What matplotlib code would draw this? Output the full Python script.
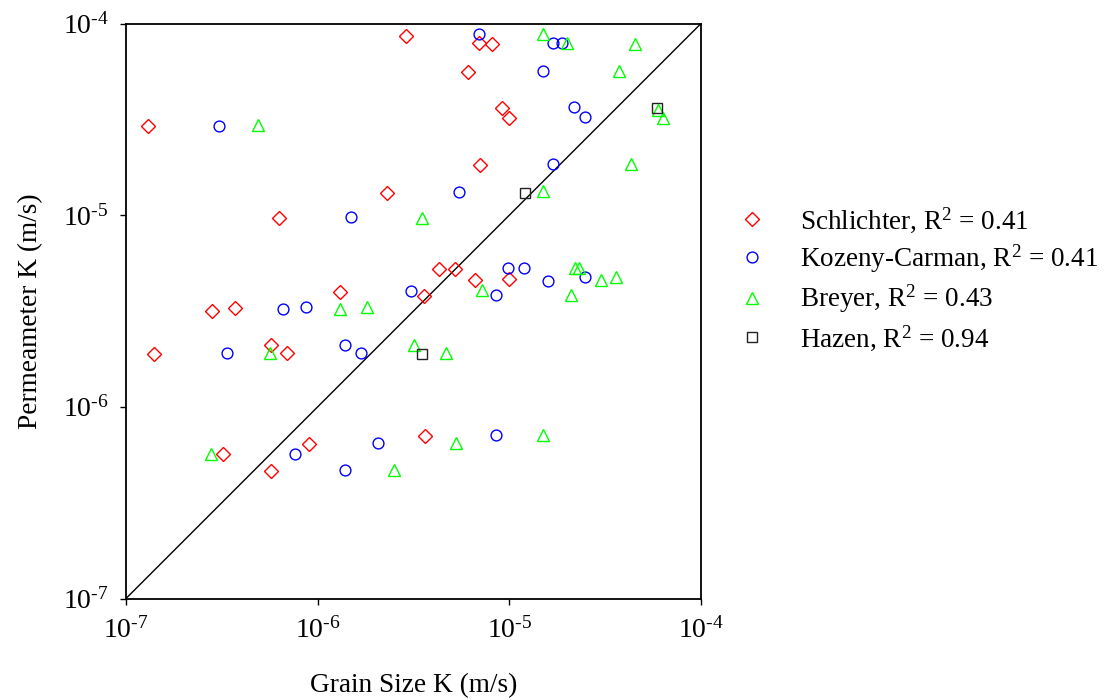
"""Grain-size K estimates against permeameter K, log-log scatter with 1:1 line."""

import matplotlib

matplotlib.use("Agg")
import matplotlib.pyplot as plt

plt.rcParams["font.family"] = ["Liberation Serif", "DejaVu Serif"]
plt.rcParams["mathtext.fontset"] = "custom"
plt.rcParams["mathtext.rm"] = "Liberation Serif"
plt.rcParams["mathtext.it"] = "Liberation Serif:italic"

# Schlichter estimates (x) against permeameter K (y), m/s
schlichter_x = [2.90e-6, 6.97e-6, 8.15e-6, 6.11e-6, 9.19e-6, 1.00e-5, 1.31e-7,
                7.03e-6, 2.30e-6, 6.31e-7, 4.31e-6, 5.21e-6, 6.62e-6, 1.00e-5,
                1.30e-6, 3.60e-6, 2.81e-7, 3.70e-7, 5.71e-7, 1.40e-7, 6.92e-7,
                3.63e-6, 9.01e-7, 3.21e-7, 5.71e-7]
schlichter_y = [8.61e-5, 7.91e-5, 7.85e-5, 5.58e-5, 3.62e-5, 3.21e-5, 2.92e-5,
                1.83e-5, 1.31e-5, 9.66e-6, 5.24e-6, 5.24e-6, 4.59e-6, 4.63e-6,
                3.99e-6, 3.79e-6, 3.17e-6, 3.27e-6, 2.10e-6, 1.89e-6, 1.90e-6,
                7.04e-7, 6.40e-7, 5.67e-7, 4.63e-7]

# Kozeny-Carman
kozeny_x = [6.92e-6, 1.68e-5, 1.89e-5, 1.49e-5, 2.17e-5, 2.48e-5, 3.07e-7,
            1.68e-5, 5.44e-6, 1.49e-6, 9.88e-6, 1.19e-5, 1.59e-5, 2.48e-5,
            3.06e-6, 8.49e-6, 6.59e-7, 8.69e-7, 1.39e-6, 3.35e-7, 1.68e-6,
            8.52e-6, 2.06e-6, 7.62e-7, 1.39e-6]
kozeny_y = [8.78e-5, 7.95e-5, 7.90e-5, 5.62e-5, 3.65e-5, 3.24e-5, 2.93e-5,
            1.84e-5, 1.32e-5, 9.74e-6, 5.28e-6, 5.30e-6, 4.55e-6, 4.76e-6,
            4.03e-6, 3.84e-6, 3.22e-6, 3.32e-6, 2.10e-6, 1.92e-6, 1.92e-6,
            7.10e-7, 6.45e-7, 5.67e-7, 4.66e-7]

# Breyer
breyer_x = [1.50e-5, 2.01e-5, 4.51e-5, 3.72e-5, 5.95e-5, 6.31e-5, 4.90e-7,
            4.31e-5, 1.50e-5, 3.50e-6, 2.19e-5, 2.32e-5, 3.00e-5, 3.60e-5,
            7.20e-6, 2.11e-5, 1.30e-6, 1.80e-6, 3.19e-6, 5.62e-7, 4.69e-6,
            1.50e-5, 5.27e-6, 2.78e-7, 2.50e-6]
breyer_y = [8.78e-5, 7.95e-5, 7.85e-5, 5.62e-5, 3.55e-5, 3.22e-5, 2.95e-5,
            1.84e-5, 1.33e-5, 9.70e-6, 5.30e-6, 5.30e-6, 4.60e-6, 4.76e-6,
            4.05e-6, 3.83e-6, 3.24e-6, 3.32e-6, 2.11e-6, 1.92e-6, 1.92e-6,
            7.10e-7, 6.45e-7, 5.70e-7, 4.68e-7]

# Hazen
hazen_x = [5.92e-5, 1.20e-5, 3.50e-6]
hazen_y = [3.62e-5, 1.31e-5, 1.89e-6]

labels = ["Schlichter, R$^2$ = 0.41", "Kozeny-Carman, R$^2$ = 0.41",
          "Breyer, R$^2$ = 0.43", "Hazen, R$^2$ = 0.94"]
limits = [1e-7, 1e-4]
tick_values = [1e-7, 1e-6, 1e-5, 1e-4]
tick_labels = [r"$10^{\text{-}7}$", r"$10^{\text{-}6}$",
               r"$10^{\text{-}5}$", r"$10^{\text{-}4}$"]

fig = plt.figure(figsize=(11.04, 7.0), dpi=100)
ax = fig.add_axes([126 / 1104, 101.5 / 700, 575 / 1104, 575 / 700])

ax.plot(limits, limits, color="black", lw=1.0, zorder=1)

common = dict(ls="none", mfc="none", mew=1.0)
ax.plot(schlichter_x, schlichter_y, marker="D", ms=7.4, mec="#ff0000",
        label=labels[0], zorder=3, **common)
ax.plot(kozeny_x, kozeny_y, marker="o", ms=7.8, mec="#0000ff",
        label=labels[1], zorder=3, **common)
ax.plot(breyer_x, breyer_y, marker="^", ms=8.8, mec="#00ff00",
        label=labels[2], zorder=3, **common)
ax.plot(hazen_x, hazen_y, marker="s", ms=7.6, mec="#222222",
        label=labels[3], zorder=4, **common)

ax.set_xscale("log")
ax.set_yscale("log")
ax.set_xlim(limits)
ax.set_ylim(limits)
ax.set_xticks(tick_values)
ax.set_xticklabels(tick_labels)
ax.set_yticks(tick_values)
ax.set_yticklabels(tick_labels)
ax.minorticks_off()
ax.tick_params(axis="both", which="major", direction="out", length=4.5,
               width=1.0, labelsize=20, top=False, right=False)
ax.tick_params(axis="x", pad=9)
ax.tick_params(axis="y", pad=8)
for side in ax.spines.values():
    side.set_linewidth(1.3)

ax.set_xlabel("Grain Size K (m/s)", fontsize=19.6, labelpad=21)
ax.set_ylabel("Permeameter K (m/s)", fontsize=19.6, labelpad=14)

ax.legend(loc="center left", bbox_to_anchor=(725 / 1104, 1 - 279 / 700),
          bbox_transform=fig.transFigure, frameon=False, fontsize=19.5,
          handlelength=2.0, handletextpad=0.78, labelspacing=0.29,
          borderpad=0, borderaxespad=0, numpoints=1, markerscale=1.0)

fig.savefig("out.png", dpi=100)
plt.close(fig)
